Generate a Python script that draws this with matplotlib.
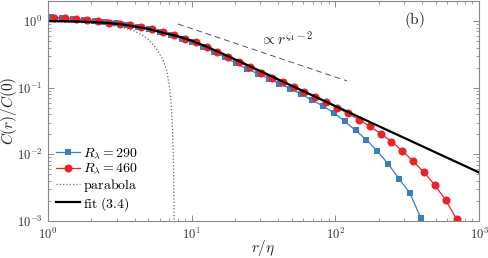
import math
import matplotlib
matplotlib.use("Agg")
import matplotlib.pyplot as plt
from matplotlib.ticker import LogLocator, FuncFormatter, NullFormatter

plt.rcParams['mathtext.fontset'] = 'cm'
plt.rcParams['font.family'] = 'serif'
plt.rcParams['font.serif'] = ['DejaVu Serif']

# R_lambda = 460 (rote Kreise)
r_460 = [1.107, 1.317, 1.568, 1.867, 2.222, 2.646, 3.150, 3.750, 4.464, 5.314,
         6.324, 7.530, 8.965, 10.67, 12.70, 15.12, 18.00, 21.43, 25.51, 30.37,
         36.14, 43.02, 51.22, 60.97, 72.58, 86.41, 102.9, 122.4, 145.8, 173.5,
         206.5, 245.9, 292.7, 348.4, 414.8, 493.8, 587.8, 699.8]
c_460 = [1.109, 1.096, 1.072, 1.028, 0.989, 0.951, 0.912, 0.871, 0.817, 0.750,
         0.679, 0.611, 0.547, 0.479, 0.410, 0.348, 0.293, 0.244, 0.202, 0.169,
         0.142, 0.122, 0.1035, 0.0867, 0.0728, 0.0610, 0.0504, 0.0412, 0.0333, 0.0265,
         0.0205, 0.01556, 0.01132, 0.00785, 0.00537, 0.00343, 0.00204, 0.00106]

# R_lambda = 290 (blaue Quadrate)
r_290 = [1.050, 1.249, 1.487, 1.770, 2.108, 2.509, 2.987, 3.556, 4.233, 5.039,
         5.998, 7.141, 8.501, 10.12, 12.05, 14.34, 17.07, 20.32, 24.19, 28.80,
         34.28, 40.81, 48.58, 57.83, 68.84, 81.95, 97.54, 116.1, 138.2, 164.6,
         195.9, 233.2, 277.6, 330.5, 393.3]
c_290 = [1.148, 1.122, 1.091, 1.052, 1.012, 0.973, 0.929, 0.883, 0.828, 0.755,
         0.684, 0.614, 0.547, 0.479, 0.409, 0.343, 0.285, 0.233, 0.191, 0.163,
         0.1374, 0.1148, 0.0966, 0.0798, 0.0649, 0.0532, 0.0422, 0.0313, 0.0229, 0.0166,
         0.01117, 0.00721, 0.00430, 0.00261, 0.00111]

# Fit (3.4)
r_fit = [1.0, 1.259, 1.585, 1.995, 2.512, 3.162, 3.981, 5.012, 6.310, 7.943,
         10.0, 12.59, 15.85, 19.95, 25.12, 100.0, 1000.0]
c_fit = [1.0, 0.995, 0.986, 0.968, 0.940, 0.902, 0.832, 0.762, 0.668, 0.596,
         0.507, 0.417, 0.335, 0.267, 0.213, 0.0530, 0.00535]

# Parabel
r_par = [1.0, 1.585, 2.512, 3.162, 3.981, 4.467, 5.012, 5.623, 6.310, 6.699,
         7.079, 7.244, 7.379, 7.482, 7.551]
c_par = [0.982, 0.955, 0.891, 0.822, 0.708, 0.631, 0.525, 0.398, 0.263, 0.182,
         0.0891, 0.0447, 0.0200, 0.00631, 0.0010]

# Potenzgesetz-Hilfslinie
r_pow = [8.03, 120.5]
c_pow = [0.904, 0.1265]

blue = '#3a7ebf'
red = '#e8242a'

fig = plt.figure(figsize=(4.88, 2.58), dpi=100)
ax = fig.add_axes([0.0984, 0.1434, 0.8832, 0.8526])

ax.plot(r_290, c_290, '-s', color=blue, lw=0.9, ms=3.8, mew=0, label=r'$R_\lambda = 290$')
ax.plot(r_460, c_460, '-o', color=red, lw=0.9, ms=5.8, mew=0, label=r'$R_\lambda = 460$')
ax.plot(r_par, c_par, ':', color='#666666', lw=0.9, label=r'$\mathrm{parabola}$')
ax.plot(r_fit, c_fit, '-', color='black', lw=1.6, label=r'$\mathrm{fit\ (3.4)}$')
ax.plot(r_pow, c_pow, '--', color='#555555', lw=0.7, dashes=(6, 4))

ax.text(0.492, 0.823, r'$\propto r^{\zeta_4-2}$', transform=ax.transAxes,
        ha='left', va='center', fontsize=11, color='#222222')
ax.text(0.851, 0.914, r'$\mathrm{(b)}$', transform=ax.transAxes,
        ha='center', va='center', fontsize=11, color='#222222')

ax.set_xscale('log')
ax.set_yscale('log')
ax.set_xlim(1, 1000)
ax.set_ylim(1e-3, 2.0)

fmt = FuncFormatter(lambda v, p: r'$10^{%d}$' % round(math.log10(v)))
ax.xaxis.set_major_formatter(fmt)
ax.yaxis.set_major_formatter(fmt)
ax.xaxis.set_minor_formatter(NullFormatter())
ax.yaxis.set_minor_formatter(NullFormatter())
ax.xaxis.set_minor_locator(LogLocator(subs=range(2, 10)))
ax.yaxis.set_minor_locator(LogLocator(subs=range(2, 10)))

ax.tick_params(which='both', direction='in', top=True, right=True,
               color='#777777', labelsize=9, labelcolor='#333333')
ax.tick_params(which='major', length=4, width=0.6, pad=4)
ax.tick_params(which='minor', length=2, width=0.5)
for s in ax.spines.values():
    s.set_color('#888888')
    s.set_linewidth(0.8)

ax.set_xlabel(r'$r/\eta$', fontsize=11, color='#222222')
ax.set_ylabel(r'$C(r)/C(0)$', fontsize=11, color='#222222')
ax.xaxis.set_label_coords(0.5, -0.078)
ax.yaxis.set_label_coords(-0.068, 0.5)

ax.legend(loc='lower left', bbox_to_anchor=(0.0, 0.0), frameon=False,
          fontsize=10, handlelength=1.7, handletextpad=0.2, labelspacing=0.05,
          borderaxespad=0.2)

fig.savefig('out.png', dpi=100)
